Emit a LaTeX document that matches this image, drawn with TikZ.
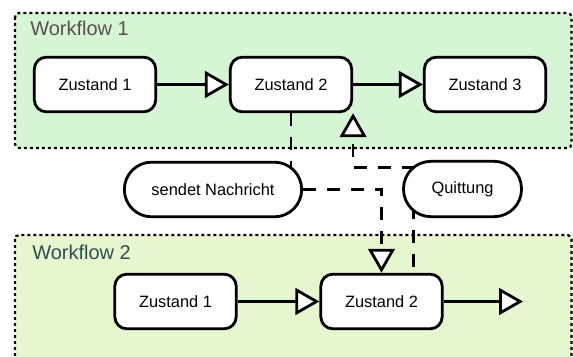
\documentclass[tikz,border=0pt]{standalone}
\usepackage{fontspec}
\setmainfont{Liberation Sans}
\usetikzlibrary{arrows.meta,calc}
\pgfdeclarelayer{back}
\pgfdeclarelayer{wires}
\pgfsetlayers{back,wires,main}
\definecolor{laneA}{HTML}{D5F5D5}
\definecolor{laneB}{HTML}{E6F7D0}
\definecolor{labelA}{HTML}{5A5050}
\definecolor{labelB}{HTML}{2F4F4F}
\begin{document}
\begin{tikzpicture}[x=0.75pt,y=-0.75pt,
  state/.style={draw, line width=2.1pt, rounded corners=9pt, fill=white,
    minimum width=91pt, minimum height=41pt, inner sep=0pt,
    font=\fontsize{12.3}{14}\selectfont},
  event/.style={state, rounded corners=20.5pt},
  lane/.style={draw, line width=1.7pt, dash pattern=on 2.2pt off 2.3pt, rounded corners=3pt},
  flow/.style={line width=2.1pt, -{Triangle[length=18pt,width=20pt,fill=white,line width=2.1pt]}},
  msg/.style={flow, dash pattern=on 9.4pt off 8.6pt},
  link/.style={line width=2.1pt, dash pattern=on 9.4pt off 8.6pt},
  lanelabel/.style={anchor=west, inner sep=0pt, font=\fontsize{15}{18}\selectfont}]
\useasboundingbox (0,0) rectangle (573,356);

% swimlanes
\begin{pgfonlayer}{back}
  \clip (0,0) rectangle (573,356);
  \path[lane, fill=laneA] (15,13) rectangle (571.5,148);
  \path[lane, fill=laneB] (15,235) rectangle (571.5,390);
\end{pgfonlayer}

\node[lanelabel, text=labelA] (w1) at (30,28) {Workflow 1};
\node[lanelabel, text=labelB] (w2) at (32,252) {Workflow 2};

% states of workflow 1
\node[state] (a1) at (95,84.5) {Zustand 1};
\node[state] (a2) at (291,84.5) {Zustand 2};
\node[state] (a3) at (485,84.5) {Zustand 3};

% messages
\node[event, minimum width=133pt] (sn) at (213,189.5) {sendet Nachricht};
\node[event, minimum width=88.5pt, minimum height=41.5pt] (q) at (462.5,189) {Quittung};

% states of workflow 2
\node[state] (b1) at (175.5,301.5) {Zustand 1};
\node[state] (b2) at (381.5,301.5) {Zustand 2};
\coordinate (out) at (523,301.5);

\coordinate (qa) at ($(q.north)!0.125!(q.south)$);
\coordinate (bq) at ($(b2.north west)!0.76!(b2.north east)$);

\begin{pgfonlayer}{wires}
  \draw[flow] (a1.east) -- (a2.west);
  \draw[flow] (a2.east) -- (a3.west);
  \draw[flow] (b1.east) -- (b2.west);
  \draw[flow] (b2.east) -- (out);
  \draw[link] (a2.south) -- (a2.south |- sn.center);
  \draw[msg] (sn.east) -| (b2.north);
  \draw[msg] (q.center |- qa) -| (a2.south east);
  \draw[link, dash phase=5pt] (q.center -| bq) -- (bq);
\end{pgfonlayer}
\end{tikzpicture}
\end{document}
